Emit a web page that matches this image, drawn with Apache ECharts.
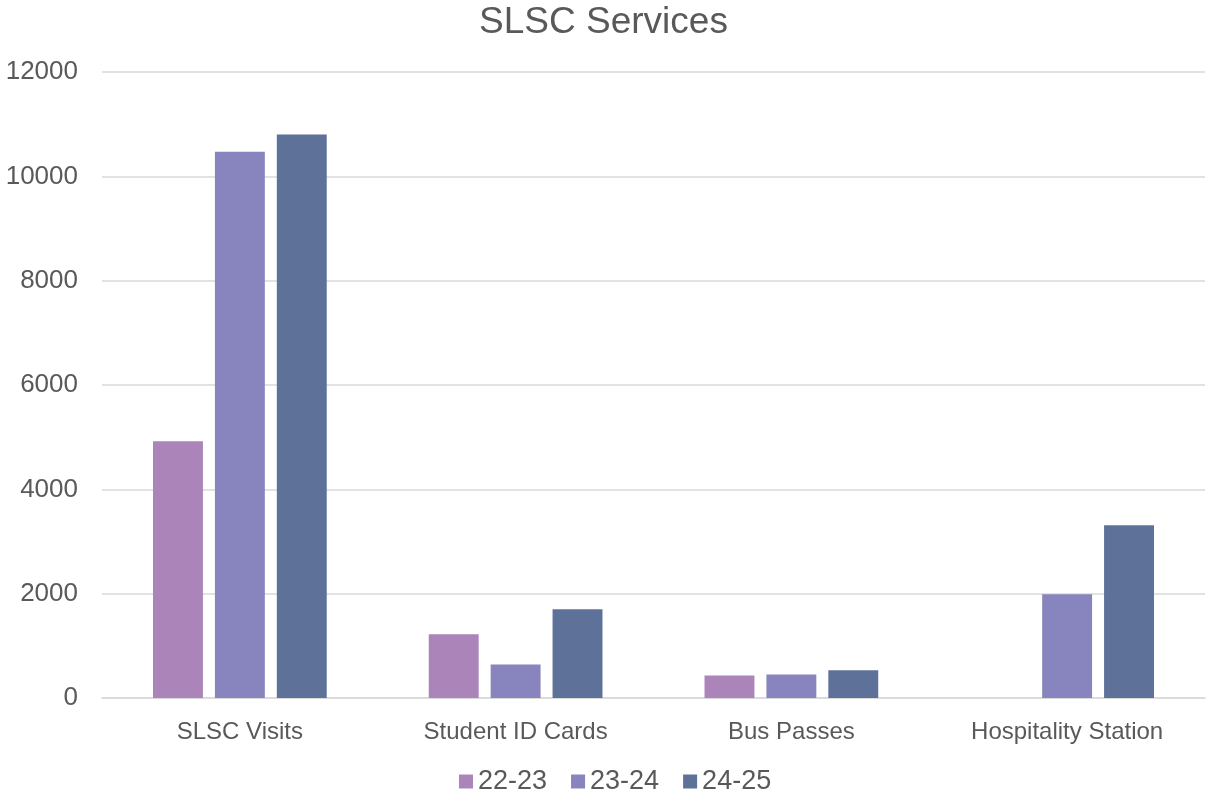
<!DOCTYPE html>
<html>
<head>
<meta charset="utf-8">
<title>SLSC Services</title>
<script src="https://cdn.jsdelivr.net/npm/echarts@6/dist/echarts.min.js"></script>
<style>
  html, body { margin: 0; padding: 0; background: #fff; }
  #chart { width: 1207px; height: 796px; }
</style>
</head>
<body>
<div id="chart"></div>
<script>
const categories = ['SLSC Visits', 'Student ID Cards', 'Bus Passes', 'Hospitality Station']
const seriesNames = ['22-23', '23-24', '24-25']
const values2223 = [4920, 1220, 430, 0]
const values2324 = [10470, 640, 450, 1990]
const values2425 = [10800, 1700, 530, 3310]
const yTicks = [0, 2000, 4000, 6000, 8000, 10000, 12000]
const colors = ['#ab84b9', '#8884be', '#5e7299']

const FONT = '"Liberation Sans", Arial, sans-serif'
const chart = echarts.init(document.getElementById('chart'))

const allValues = [values2223, values2324, values2425]

chart.setOption({
  animation: false,
  color: colors,
  title: {
    text: 'SLSC Services',
    left: 'center',
    top: 4,
    padding: 0,
    textStyle: { fontFamily: FONT, fontWeight: 'normal', fontSize: 37, color: '#595959' }
  },
  legend: {
    bottom: 1,
    left: 459,
    padding: 0,
    itemWidth: 14,
    itemHeight: 14,
    itemGap: 24,
    icon: 'rect',
    textStyle: { fontFamily: FONT, fontSize: 27, color: '#595959' },
    data: seriesNames
  },
  grid: { left: 102, right: 2, top: 72, bottom: 98, containLabel: false },
  xAxis: {
    type: 'category',
    data: categories,
    axisLine: { lineStyle: { color: '#d9d9d9', width: 1.5 } },
    axisTick: { show: false },
    axisLabel: { fontFamily: FONT, fontSize: 24, color: '#595959', margin: 22 }
  },
  yAxis: {
    type: 'value',
    min: yTicks[0],
    max: yTicks[yTicks.length - 1],
    interval: 2000,
    axisLine: { show: false },
    axisTick: { show: false },
    splitLine: { lineStyle: { color: '#d9d9d9', width: 1.5 } },
    axisLabel: {
      fontFamily: FONT, fontSize: 26, color: '#595959', margin: 24,
      formatter: v => String(v)
    }
  },
  series: seriesNames.map((name, i) => ({
    name: name,
    type: 'bar',
    data: allValues[i],
    barGap: '24%',
    barCategoryGap: '37%'
  }))
})
</script>
</body>
</html>
